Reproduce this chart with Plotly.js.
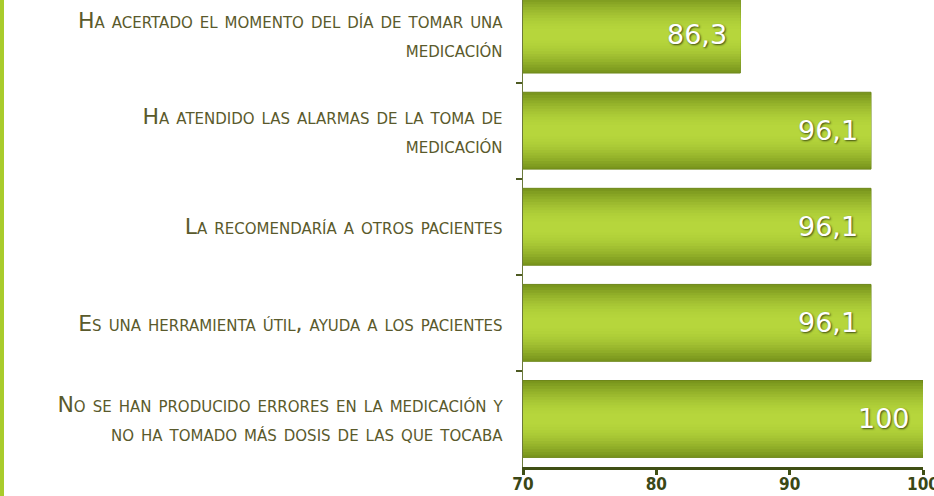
<!DOCTYPE html>
<html>
<head>
<meta charset="utf-8">
<script src="https://cdn.plot.ly/plotly-3.0.1.min.js"></script>
<style>
html,body{margin:0;padding:0;background:#fff;}
#chart{width:934px;height:496px;}
</style>
</head>
<body>
<div id="chart"></div>
<script>
// ---- data ----
const categories = [
  "Ha acertado el momento del día de tomar una<br>medicación",
  "Ha atendido las alarmas de la toma de<br>medicación",
  "La recomendaría a otros pacientes",
  "Es una herramienta útil, ayuda a los pacientes",
  "No se han producido errores en la medicación y<br>no ha tomado más dosis de las que tocaba"
];
const values = [86.3, 96.1, 96.1, 96.1, 100];
const xTickValues = [70, 80, 90, 100];
const xTickLabels = ["70", "80", "90", "100"];

// ---- style: layered bars to imitate the vertical gradient ----
const nLayers = 14;
const edge = [122, 150, 29], mid = [182, 214, 60];
function mix(t) {
  const c = edge.map((e, k) => Math.round(e + (mid[k] - e) * t));
  return "rgb(" + c.join(",") + ")";
}
const traces = [];
for (let i = 0; i < nLayers; i++) {
  const t = i / (nLayers - 1);
  const w = 0.80 * (1 - t) + 0.06 * t;
  const eased = Math.sin(t * Math.PI / 2);
  traces.push({
    type: "bar",
    orientation: "h",
    x: values,
    y: categories,
    width: w,
    marker: {color: mix(eased), line: {color: "#6d8719", width: i === 0 ? 1 : 0}},
    hoverinfo: "skip",
    showlegend: false
  });
}

const annotations = values.map((v, i) => ({
  x: v, y: categories[i], xref: "x", yref: "y",
  text: String(v).replace(".", ","),
  showarrow: false, xanchor: "right", yanchor: "middle", xshift: -11,
  font: {family: "DejaVu Sans", size: 27, color: "#ffffff", shadow: "1px 1px 2px rgba(40,50,10,0.85)"}
}));

const layout = {
  width: 934, height: 496,
  margin: {l: 523, r: 11, t: 0, b: 29},
  paper_bgcolor: "#ffffff", plot_bgcolor: "#ffffff",
  barmode: "overlay",
  xaxis: {
    range: [70, 100],
    tickvals: xTickValues, ticktext: xTickLabels,
    showgrid: false, zeroline: false,
    showline: true, linecolor: "#3f4f14", linewidth: 3,
    ticks: "outside", ticklen: 5, tickwidth: 3, tickcolor: "#3f4f14",
    ticklabeloverflow: "allow",
    ticklabelstandoff: -5,
    tickfont: {family: "Liberation Sans Narrow, DejaVu Sans Condensed, sans-serif", size: 17, color: "#3a4716", weight: "bold"}
  },
  yaxis: {
    range: [4.5, -0.36],
    showgrid: false, zeroline: false,
    showline: true, linecolor: "#6b7a3a", linewidth: 1,
    ticks: "outside", tickson: "boundaries", ticklen: 6, tickcolor: "#4d5a22", tickwidth: 2,
    ticklabelstandoff: 15,
    tickfont: {family: "DejaVu Sans", size: 22, color: "#5a5a2c", variant: "small-caps"}
  },
  shapes: [{
    type: "rect", xref: "paper", yref: "paper",
    x0: -523/400, x1: -519/400, y0: -29/467, y1: 1,
    fillcolor: "#a9cc2c", line: {width: 0}
  }],
  annotations: annotations
};

Plotly.newPlot("chart", traces, layout, {displayModeBar: false, staticPlot: true});
</script>
</body>
</html>
